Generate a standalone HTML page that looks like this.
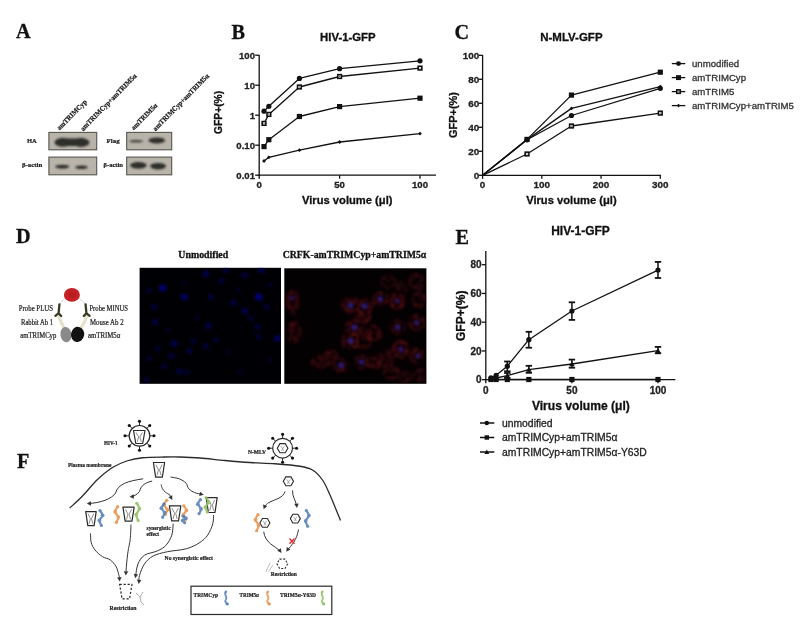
<!DOCTYPE html>
<html><head><meta charset="utf-8"><title>Figure</title>
<style>html,body{margin:0;padding:0;background:#fff;width:800px;height:634px;overflow:hidden;position:relative}</style>
</head><body>
<svg width="800" height="634" viewBox="0 0 800 634" style="position:absolute;left:0;top:0;filter:blur(0.3px)">
<text x="16" y="38.4" font-family='"Liberation Serif", serif' font-size="20.2" font-weight="bold" text-anchor="start" fill="#111" stroke="#111" stroke-width="0.3" >A</text>
<text x="231.6" y="38.7" font-family='"Liberation Serif", serif' font-size="20.2" font-weight="bold" text-anchor="start" fill="#111" stroke="#111" stroke-width="0.3" >B</text>
<text x="454.4" y="38.5" font-family='"Liberation Serif", serif' font-size="20.2" font-weight="bold" text-anchor="start" fill="#111" stroke="#111" stroke-width="0.3" >C</text>
<text x="16.1" y="243.3" font-family='"Liberation Serif", serif' font-size="20.2" font-weight="bold" text-anchor="start" fill="#111" stroke="#111" stroke-width="0.3" >D</text>
<text x="455.6" y="243.5" font-family='"Liberation Serif", serif' font-size="20.2" font-weight="bold" text-anchor="start" fill="#111" stroke="#111" stroke-width="0.3" >E</text>
<text x="17" y="467.6" font-family='"Liberation Serif", serif' font-size="20.2" font-weight="bold" text-anchor="start" fill="#111" stroke="#111" stroke-width="0.3" >F</text>
<defs><filter id="blur1" x="-20%" y="-50%" width="140%" height="200%"><feGaussianBlur stdDeviation="1.1"/></filter><filter id="blur05"><feGaussianBlur stdDeviation="0.5"/></filter><filter id="blur2" x="-50%" y="-50%" width="200%" height="200%"><feGaussianBlur stdDeviation="2"/></filter><filter id="blur3" x="-50%" y="-50%" width="200%" height="200%"><feGaussianBlur stdDeviation="3"/></filter></defs>
<rect x="48.9" y="132.4" width="47.800000000000004" height="17.400000000000006" fill="#b8b4aa" stroke="#55544f" stroke-width="1.1"/>
<rect x="48.9" y="157.1" width="47.800000000000004" height="17.700000000000017" fill="#b8b4aa" stroke="#55544f" stroke-width="1.1"/>
<rect x="126.7" y="132.4" width="44.999999999999986" height="17.400000000000006" fill="#b8b4aa" stroke="#55544f" stroke-width="1.1"/>
<rect x="126.7" y="157.1" width="44.999999999999986" height="17.700000000000017" fill="#b8b4aa" stroke="#55544f" stroke-width="1.1"/>
<g filter="url(#blur1)" fill="#2e2d2a"><ellipse cx="63" cy="142.3" rx="8.5" ry="4.4"/><ellipse cx="81" cy="142.5" rx="8.5" ry="4.4"/><rect x="60" y="138.5" width="24" height="7.5"/><ellipse cx="62.3" cy="166.6" rx="7" ry="1.9"/><ellipse cx="81.5" cy="167.2" rx="6.2" ry="1.7"/><ellipse cx="136.2" cy="141.2" rx="7" ry="1.4" fill="#4a4843"/><ellipse cx="156.8" cy="140.4" rx="8.2" ry="3"/><ellipse cx="138.4" cy="165.3" rx="8.2" ry="3.4"/><ellipse cx="158.1" cy="166.2" rx="7.8" ry="3.3"/></g>
<text x="27" y="143.4" font-family='"Liberation Serif", serif' font-size="6.6" font-weight="bold" text-anchor="start" fill="#222" stroke="#222" stroke-width="0.22" textLength="9.8" lengthAdjust="spacingAndGlyphs" >HA</text>
<text x="22" y="167.3" font-family='"Liberation Serif", serif' font-size="6.6" font-weight="bold" text-anchor="start" fill="#222" stroke="#222" stroke-width="0.22" textLength="20.3" lengthAdjust="spacingAndGlyphs" >β-actin</text>
<text x="106.6" y="143.4" font-family='"Liberation Serif", serif' font-size="6.6" font-weight="bold" text-anchor="start" fill="#222" stroke="#222" stroke-width="0.22" textLength="13" lengthAdjust="spacingAndGlyphs" >Flag</text>
<text x="103.5" y="167.3" font-family='"Liberation Serif", serif' font-size="6.6" font-weight="bold" text-anchor="start" fill="#222" stroke="#222" stroke-width="0.22" textLength="19.5" lengthAdjust="spacingAndGlyphs" >β-actin</text>
<text x="59.6" y="130.6" font-family='"Liberation Serif", serif' font-size="7.1" font-weight="bold" text-anchor="start" fill="#151515" stroke="#151515" stroke-width="0.22" textLength="39.5" lengthAdjust="spacingAndGlyphs" transform="rotate(-45.5 59.6 130.6)">amTRIMCyp</text>
<text x="83.2" y="131.4" font-family='"Liberation Serif", serif' font-size="7.1" font-weight="bold" text-anchor="start" fill="#151515" stroke="#151515" stroke-width="0.22" textLength="77" lengthAdjust="spacingAndGlyphs" transform="rotate(-45.5 83.2 131.4)">amTRIMCyp+amTRIM5α</text>
<text x="133.8" y="130.6" font-family='"Liberation Serif", serif' font-size="7.1" font-weight="bold" text-anchor="start" fill="#151515" stroke="#151515" stroke-width="0.22" textLength="34.5" lengthAdjust="spacingAndGlyphs" transform="rotate(-45.5 133.8 130.6)">amTRIM5α</text>
<text x="155.6" y="131.4" font-family='"Liberation Serif", serif' font-size="7.1" font-weight="bold" text-anchor="start" fill="#151515" stroke="#151515" stroke-width="0.22" textLength="77" lengthAdjust="spacingAndGlyphs" transform="rotate(-45.5 155.6 131.4)">amTRIMCyp+amTRIM5α</text>
<line x1="259.20" y1="55.00" x2="259.20" y2="175.80" stroke="#111" stroke-width="1.3" />
<line x1="258.60" y1="175.20" x2="436.00" y2="175.20" stroke="#111" stroke-width="1.3" />
<line x1="255.20" y1="55.20" x2="259.20" y2="55.20" stroke="#111" stroke-width="1.3" />
<text x="255.0" y="58.69999999999999" font-family='"Liberation Sans", sans-serif' font-size="9.6" font-weight="bold" text-anchor="end" fill="#222" stroke="#222" stroke-width="0.3" >100</text>
<line x1="255.20" y1="85.20" x2="259.20" y2="85.20" stroke="#111" stroke-width="1.3" />
<text x="255.0" y="88.69999999999999" font-family='"Liberation Sans", sans-serif' font-size="9.6" font-weight="bold" text-anchor="end" fill="#222" stroke="#222" stroke-width="0.3" >10</text>
<line x1="255.20" y1="115.20" x2="259.20" y2="115.20" stroke="#111" stroke-width="1.3" />
<text x="255.0" y="118.69999999999999" font-family='"Liberation Sans", sans-serif' font-size="9.6" font-weight="bold" text-anchor="end" fill="#222" stroke="#222" stroke-width="0.3" >1</text>
<line x1="255.20" y1="145.20" x2="259.20" y2="145.20" stroke="#111" stroke-width="1.3" />
<text x="255.0" y="148.7" font-family='"Liberation Sans", sans-serif' font-size="9.6" font-weight="bold" text-anchor="end" fill="#222" stroke="#222" stroke-width="0.3" >0.10</text>
<line x1="255.20" y1="175.20" x2="259.20" y2="175.20" stroke="#111" stroke-width="1.3" />
<text x="255.0" y="178.7" font-family='"Liberation Sans", sans-serif' font-size="9.6" font-weight="bold" text-anchor="end" fill="#222" stroke="#222" stroke-width="0.3" >0.01</text>
<line x1="259.20" y1="175.20" x2="259.20" y2="178.70" stroke="#111" stroke-width="1.3" />
<text x="259.2" y="188.2" font-family='"Liberation Sans", sans-serif' font-size="9.6" font-weight="bold" text-anchor="middle" fill="#222" stroke="#222" stroke-width="0.3" >0</text>
<line x1="339.60" y1="175.20" x2="339.60" y2="178.70" stroke="#111" stroke-width="1.3" />
<text x="339.6" y="188.2" font-family='"Liberation Sans", sans-serif' font-size="9.6" font-weight="bold" text-anchor="middle" fill="#222" stroke="#222" stroke-width="0.3" >50</text>
<line x1="420.00" y1="175.20" x2="420.00" y2="178.70" stroke="#111" stroke-width="1.3" />
<text x="420.0" y="188.2" font-family='"Liberation Sans", sans-serif' font-size="9.6" font-weight="bold" text-anchor="middle" fill="#222" stroke="#222" stroke-width="0.3" >100</text>
<text x="347.25" y="203.6" font-family='"Liberation Sans", sans-serif' font-size="11.2" font-weight="bold" text-anchor="middle" fill="#111" stroke="#111" stroke-width="0.3" textLength="90.5" lengthAdjust="spacingAndGlyphs" >Virus volume (μl)</text>
<text x="222.2" y="112.4" font-family='"Liberation Sans", sans-serif' font-size="10.8" font-weight="bold" text-anchor="middle" fill="#111" stroke="#111" stroke-width="0.3" textLength="43" lengthAdjust="spacingAndGlyphs" transform="rotate(-90 222.2 112.4)">GFP+(%)</text>
<text x="347.85" y="40.7" font-family='"Liberation Sans", sans-serif' font-size="11.35" font-weight="bold" text-anchor="middle" fill="#111" stroke="#111" stroke-width="0.3" textLength="55.5" lengthAdjust="spacingAndGlyphs" >HIV-1-GFP</text>
<polyline points="264.02,111.20 268.85,106.30 299.40,78.40 339.60,68.70 420.00,60.80" fill="none" stroke="#111" stroke-width="1.3" stroke-linejoin="round"/>
<circle cx="264.02" cy="111.20" r="2.60" fill="#111"/>
<circle cx="268.85" cy="106.30" r="2.60" fill="#111"/>
<circle cx="299.40" cy="78.40" r="2.60" fill="#111"/>
<circle cx="339.60" cy="68.70" r="2.60" fill="#111"/>
<circle cx="420.00" cy="60.80" r="2.60" fill="#111"/>
<polyline points="264.02,123.40 268.85,114.40 299.40,87.00 339.60,76.50 420.00,68.10" fill="none" stroke="#111" stroke-width="1.3" stroke-linejoin="round"/>
<rect x="262.17" y="121.55" width="3.70" height="3.70" fill="#fff" stroke="#111" stroke-width="1.6"/>
<circle cx="264.02" cy="123.40" r="0.7" fill="#777"/>
<rect x="267.00" y="112.55" width="3.70" height="3.70" fill="#fff" stroke="#111" stroke-width="1.6"/>
<circle cx="268.85" cy="114.40" r="0.7" fill="#777"/>
<rect x="297.55" y="85.15" width="3.70" height="3.70" fill="#fff" stroke="#111" stroke-width="1.6"/>
<circle cx="299.40" cy="87.00" r="0.7" fill="#777"/>
<rect x="337.75" y="74.65" width="3.70" height="3.70" fill="#fff" stroke="#111" stroke-width="1.6"/>
<circle cx="339.60" cy="76.50" r="0.7" fill="#777"/>
<rect x="418.15" y="66.25" width="3.70" height="3.70" fill="#fff" stroke="#111" stroke-width="1.6"/>
<circle cx="420.00" cy="68.10" r="0.7" fill="#777"/>
<polyline points="264.02,146.60 268.85,139.70 299.40,116.50 339.60,106.60 420.00,98.20" fill="none" stroke="#111" stroke-width="1.3" stroke-linejoin="round"/>
<rect x="261.42" y="144.00" width="5.20" height="5.20" fill="#111"/>
<rect x="266.25" y="137.10" width="5.20" height="5.20" fill="#111"/>
<rect x="296.80" y="113.90" width="5.20" height="5.20" fill="#111"/>
<rect x="337.00" y="104.00" width="5.20" height="5.20" fill="#111"/>
<rect x="417.40" y="95.60" width="5.20" height="5.20" fill="#111"/>
<polyline points="264.02,161.00 268.85,157.30 299.40,150.20 339.60,142.00 420.00,133.60" fill="none" stroke="#111" stroke-width="1.3" stroke-linejoin="round"/>
<polygon points="264.02,159.11 265.91,161.00 264.02,162.89 262.13,161.00" fill="#111"/>
<polygon points="268.85,155.41 270.74,157.30 268.85,159.19 266.96,157.30" fill="#111"/>
<polygon points="299.40,148.31 301.29,150.20 299.40,152.09 297.51,150.20" fill="#111"/>
<polygon points="339.60,140.11 341.49,142.00 339.60,143.89 337.71,142.00" fill="#111"/>
<polygon points="420.00,131.71 421.89,133.60 420.00,135.49 418.11,133.60" fill="#111"/>
<line x1="482.60" y1="55.00" x2="482.60" y2="175.90" stroke="#111" stroke-width="1.3" />
<line x1="482.00" y1="175.30" x2="661.00" y2="175.30" stroke="#111" stroke-width="1.3" />
<line x1="478.60" y1="175.30" x2="482.60" y2="175.30" stroke="#111" stroke-width="1.3" />
<text x="479.20000000000005" y="178.8" font-family='"Liberation Sans", sans-serif' font-size="9.9" font-weight="bold" text-anchor="end" fill="#222" stroke="#222" stroke-width="0.3" >0</text>
<line x1="478.60" y1="151.30" x2="482.60" y2="151.30" stroke="#111" stroke-width="1.3" />
<text x="479.20000000000005" y="154.8" font-family='"Liberation Sans", sans-serif' font-size="9.9" font-weight="bold" text-anchor="end" fill="#222" stroke="#222" stroke-width="0.3" >20</text>
<line x1="478.60" y1="127.30" x2="482.60" y2="127.30" stroke="#111" stroke-width="1.3" />
<text x="479.20000000000005" y="130.8" font-family='"Liberation Sans", sans-serif' font-size="9.9" font-weight="bold" text-anchor="end" fill="#222" stroke="#222" stroke-width="0.3" >40</text>
<line x1="478.60" y1="103.30" x2="482.60" y2="103.30" stroke="#111" stroke-width="1.3" />
<text x="479.20000000000005" y="106.80000000000001" font-family='"Liberation Sans", sans-serif' font-size="9.9" font-weight="bold" text-anchor="end" fill="#222" stroke="#222" stroke-width="0.3" >60</text>
<line x1="478.60" y1="79.30" x2="482.60" y2="79.30" stroke="#111" stroke-width="1.3" />
<text x="479.20000000000005" y="82.80000000000001" font-family='"Liberation Sans", sans-serif' font-size="9.9" font-weight="bold" text-anchor="end" fill="#222" stroke="#222" stroke-width="0.3" >80</text>
<line x1="478.60" y1="55.30" x2="482.60" y2="55.30" stroke="#111" stroke-width="1.3" />
<text x="479.20000000000005" y="58.80000000000001" font-family='"Liberation Sans", sans-serif' font-size="9.9" font-weight="bold" text-anchor="end" fill="#222" stroke="#222" stroke-width="0.3" >100</text>
<line x1="482.60" y1="175.30" x2="482.60" y2="178.80" stroke="#111" stroke-width="1.3" />
<text x="482.6" y="188.3" font-family='"Liberation Sans", sans-serif' font-size="9.9" font-weight="bold" text-anchor="middle" fill="#222" stroke="#222" stroke-width="0.3" >0</text>
<line x1="541.83" y1="175.30" x2="541.83" y2="178.80" stroke="#111" stroke-width="1.3" />
<text x="541.83" y="188.3" font-family='"Liberation Sans", sans-serif' font-size="9.9" font-weight="bold" text-anchor="middle" fill="#222" stroke="#222" stroke-width="0.3" >100</text>
<line x1="601.06" y1="175.30" x2="601.06" y2="178.80" stroke="#111" stroke-width="1.3" />
<text x="601.0600000000001" y="188.3" font-family='"Liberation Sans", sans-serif' font-size="9.9" font-weight="bold" text-anchor="middle" fill="#222" stroke="#222" stroke-width="0.3" >200</text>
<line x1="660.29" y1="175.30" x2="660.29" y2="178.80" stroke="#111" stroke-width="1.3" />
<text x="660.2900000000001" y="188.3" font-family='"Liberation Sans", sans-serif' font-size="9.9" font-weight="bold" text-anchor="middle" fill="#222" stroke="#222" stroke-width="0.3" >300</text>
<text x="571.4" y="203.6" font-family='"Liberation Sans", sans-serif' font-size="11.2" font-weight="bold" text-anchor="middle" fill="#111" stroke="#111" stroke-width="0.3" textLength="90.5" lengthAdjust="spacingAndGlyphs" >Virus volume (μl)</text>
<text x="457.2" y="115" font-family='"Liberation Sans", sans-serif' font-size="10.8" font-weight="bold" text-anchor="middle" fill="#111" stroke="#111" stroke-width="0.3" textLength="46" lengthAdjust="spacingAndGlyphs" transform="rotate(-90 457.2 115)">GFP+(%)</text>
<text x="571.4" y="40.7" font-family='"Liberation Sans", sans-serif' font-size="11.5" font-weight="bold" text-anchor="middle" fill="#111" stroke="#111" stroke-width="0.3" textLength="62.3" lengthAdjust="spacingAndGlyphs" >N-MLV-GFP</text>
<polyline points="482.60,175.30 527.02,139.80 571.45,115.50 660.29,88.30" fill="none" stroke="#111" stroke-width="1.3" stroke-linejoin="round"/>
<circle cx="527.02" cy="139.80" r="2.60" fill="#111"/>
<circle cx="571.45" cy="115.50" r="2.60" fill="#111"/>
<circle cx="660.29" cy="88.30" r="2.60" fill="#111"/>
<polyline points="482.60,175.30 527.02,139.40 571.45,95.10 660.29,72.20" fill="none" stroke="#111" stroke-width="1.3" stroke-linejoin="round"/>
<rect x="524.42" y="136.80" width="5.20" height="5.20" fill="#111"/>
<rect x="568.85" y="92.50" width="5.20" height="5.20" fill="#111"/>
<rect x="657.69" y="69.60" width="5.20" height="5.20" fill="#111"/>
<polyline points="482.60,175.30 527.02,154.00 571.45,126.00 660.29,113.10" fill="none" stroke="#111" stroke-width="1.3" stroke-linejoin="round"/>
<rect x="525.17" y="152.15" width="3.70" height="3.70" fill="#fff" stroke="#111" stroke-width="1.6"/>
<circle cx="527.02" cy="154.00" r="0.7" fill="#777"/>
<rect x="569.60" y="124.15" width="3.70" height="3.70" fill="#fff" stroke="#111" stroke-width="1.6"/>
<circle cx="571.45" cy="126.00" r="0.7" fill="#777"/>
<rect x="658.44" y="111.25" width="3.70" height="3.70" fill="#fff" stroke="#111" stroke-width="1.6"/>
<circle cx="660.29" cy="113.10" r="0.7" fill="#777"/>
<polyline points="482.60,175.30 527.02,139.60 571.45,108.40 660.29,86.60" fill="none" stroke="#111" stroke-width="1.3" stroke-linejoin="round"/>
<polygon points="527.02,137.71 528.91,139.60 527.02,141.49 525.13,139.60" fill="#111"/>
<polygon points="571.45,106.51 573.34,108.40 571.45,110.29 569.56,108.40" fill="#111"/>
<polygon points="660.29,84.71 662.18,86.60 660.29,88.49 658.40,86.60" fill="#111"/>
<line x1="671.80" y1="63.60" x2="685.30" y2="63.60" stroke="#111" stroke-width="1.3" />
<circle cx="678.50" cy="63.60" r="2.47" fill="#111"/>
<text x="692" y="67.1" font-family='"Liberation Sans", sans-serif' font-size="9.65" font-weight="normal" text-anchor="start" fill="#333" stroke="#333" stroke-width="0.3" >unmodified</text>
<line x1="671.80" y1="77.60" x2="685.30" y2="77.60" stroke="#111" stroke-width="1.3" />
<rect x="676.03" y="75.13" width="4.94" height="4.94" fill="#111"/>
<text x="692" y="81.1" font-family='"Liberation Sans", sans-serif' font-size="9.65" font-weight="normal" text-anchor="start" fill="#333" stroke="#333" stroke-width="0.3" >amTRIMCyp</text>
<line x1="671.80" y1="91.60" x2="685.30" y2="91.60" stroke="#111" stroke-width="1.3" />
<rect x="676.78" y="89.88" width="3.44" height="3.44" fill="#fff" stroke="#111" stroke-width="1.6"/>
<circle cx="678.50" cy="91.60" r="0.7" fill="#777"/>
<text x="692" y="95.1" font-family='"Liberation Sans", sans-serif' font-size="9.65" font-weight="normal" text-anchor="start" fill="#333" stroke="#333" stroke-width="0.3" >amTRIM5</text>
<line x1="671.80" y1="105.60" x2="685.30" y2="105.60" stroke="#111" stroke-width="1.3" />
<polygon points="678.50,103.81 680.28,105.60 678.50,107.38 676.72,105.60" fill="#111"/>
<text x="692" y="109.1" font-family='"Liberation Sans", sans-serif' font-size="9.65" font-weight="normal" text-anchor="start" fill="#333" stroke="#333" stroke-width="0.3" >amTRIMCyp+amTRIM5</text>
<g>
<path d="M64.5,299 Q60.5,301 59.8,305" fill="none" stroke="#cfcfcf" stroke-width="0.8"/>
<path d="M79.5,299 Q84.5,301 85.3,305" fill="none" stroke="#cfcfcf" stroke-width="0.8"/>
<ellipse cx="71.9" cy="294.9" rx="8" ry="6.8" fill="#c42026"/>
<ellipse cx="71.9" cy="294.9" rx="4" ry="3" fill="#b01c20" opacity="0.6"/>
<path d="M58.8,316 L61,322 L64.5,328.5" fill="none" stroke="#e4e2c8" stroke-width="3.2" stroke-linecap="round"/>
<path d="M86.8,316 L84.5,322 L80.5,328.5" fill="none" stroke="#e4e2c8" stroke-width="3.2" stroke-linecap="round"/>
<path d="M59.4,304.5 L58.6,313.2 M55.4,315.8 L58.6,313.2 L61.2,316" fill="none" stroke="#383826" stroke-width="2.3" stroke-linecap="round"/>
<path d="M85.6,304.5 L86.4,313.2 M89.6,315.8 L86.4,313.2 L83.8,316" fill="none" stroke="#383826" stroke-width="2.3" stroke-linecap="round"/>
<ellipse cx="66" cy="334.6" rx="5.6" ry="7.6" fill="#8a8a8a" transform="rotate(-8 66 334.6)"/>
<ellipse cx="77.6" cy="334.4" rx="6.6" ry="7.6" fill="#121212" transform="rotate(10 77.6 334.4)"/>
</g>
<text x="18.8" y="311.2" font-family='"Liberation Serif", serif' font-size="7.6" font-weight="normal" text-anchor="start" fill="#222" stroke="#222" stroke-width="0.22" textLength="34.2" lengthAdjust="spacingAndGlyphs" >Probe PLUS</text>
<text x="89.4" y="311.2" font-family='"Liberation Serif", serif' font-size="7.6" font-weight="normal" text-anchor="start" fill="#222" stroke="#222" stroke-width="0.22" textLength="38.6" lengthAdjust="spacingAndGlyphs" >Probe MINUS</text>
<text x="21" y="324.9" font-family='"Liberation Serif", serif' font-size="7.6" font-weight="normal" text-anchor="start" fill="#222" stroke="#222" stroke-width="0.22" textLength="32" lengthAdjust="spacingAndGlyphs" >Rabbit Ab 1</text>
<text x="90" y="324.9" font-family='"Liberation Serif", serif' font-size="7.6" font-weight="normal" text-anchor="start" fill="#222" stroke="#222" stroke-width="0.22" textLength="33.6" lengthAdjust="spacingAndGlyphs" >Mouse Ab 2</text>
<text x="20.3" y="338.2" font-family='"Liberation Serif", serif' font-size="7.6" font-weight="normal" text-anchor="start" fill="#222" stroke="#222" stroke-width="0.22" textLength="36" lengthAdjust="spacingAndGlyphs" >amTRIMCyp</text>
<text x="87.9" y="338.2" font-family='"Liberation Serif", serif' font-size="7.6" font-weight="normal" text-anchor="start" fill="#222" stroke="#222" stroke-width="0.22" textLength="32.4" lengthAdjust="spacingAndGlyphs" >amTRIM5α</text>
<text x="203.3" y="258.2" font-family='"Liberation Serif", serif' font-size="9.7" font-weight="bold" text-anchor="middle" fill="#111" stroke="#111" stroke-width="0.3" textLength="49.9" lengthAdjust="spacingAndGlyphs" >Unmodified</text>
<text x="354.5" y="257.6" font-family='"Liberation Serif", serif' font-size="9.75" font-weight="bold" text-anchor="middle" fill="#111" stroke="#111" stroke-width="0.3" textLength="143.5" lengthAdjust="spacingAndGlyphs" >CRFK-amTRIMCyp+amTRIM5α</text>
<defs><filter id="speck" x="-10%" y="-10%" width="120%" height="120%"><feGaussianBlur in="SourceGraphic" stdDeviation="1.6" result="b"/><feTurbulence type="fractalNoise" baseFrequency="0.22" numOctaves="2" seed="3" result="n"/><feColorMatrix in="n" type="matrix" values="0 0 0 0 0  0 0 0 0 0  0 0 0 0 0  0 0 0 1.8 -0.4" result="na"/><feComposite in="b" in2="na" operator="in" result="c"/><feGaussianBlur in="c" stdDeviation="1.0"/></filter><filter id="soft" x="-50%" y="-50%" width="200%" height="200%"><feGaussianBlur stdDeviation="1.7"/></filter></defs>
<rect x="139.6" y="267.8" width="141.4" height="116" fill="#000004"/>
<svg x="139.6" y="267.8" width="141.4" height="116" overflow="hidden"><g transform="translate(-139.6,-267.8)">
<g filter="url(#soft)"><circle cx="162.8" cy="288" r="3.6" fill="#05056f"/><circle cx="184.3" cy="296.8" r="3.4" fill="#040466"/><circle cx="258.7" cy="296.8" r="3.6" fill="#050578"/><circle cx="277.6" cy="338.4" r="3.2" fill="#040466"/><circle cx="205.7" cy="274" r="3.2" fill="#03034c"/><circle cx="225.9" cy="270.3" r="2.8" fill="#02023c"/><circle cx="244.8" cy="275.3" r="3" fill="#030340"/><circle cx="261.2" cy="270.3" r="3" fill="#030351"/><circle cx="148.9" cy="290.5" r="2.8" fill="#020231"/><circle cx="154" cy="306.9" r="3" fill="#02023c"/><circle cx="155.2" cy="322" r="3" fill="#030344"/><circle cx="210.8" cy="296.8" r="3" fill="#02023d"/><circle cx="220.9" cy="281.6" r="3" fill="#020238"/><circle cx="233.5" cy="303" r="3.2" fill="#02023a"/><circle cx="244.8" cy="310.7" r="3.2" fill="#03034c"/><circle cx="266.3" cy="306.9" r="3" fill="#020238"/><circle cx="208.2" cy="325.8" r="3.2" fill="#03033f"/><circle cx="174.2" cy="343.5" r="3.2" fill="#03034c"/><circle cx="193.1" cy="341" r="2.8" fill="#020238"/><circle cx="215.8" cy="339.7" r="2.8" fill="#020231"/><circle cx="205.7" cy="346" r="3" fill="#020239"/><circle cx="189.3" cy="351" r="3" fill="#03033f"/><circle cx="171.6" cy="356" r="3" fill="#02023c"/><circle cx="157.8" cy="348.5" r="2.8" fill="#020231"/><circle cx="148.9" cy="358.6" r="2.8" fill="#02022e"/><circle cx="164" cy="366.2" r="2.8" fill="#020238"/><circle cx="179.2" cy="371.2" r="3" fill="#03033f"/><circle cx="186.8" cy="372.5" r="2.8" fill="#020239"/><circle cx="146.4" cy="380" r="2.8" fill="#02023c"/><circle cx="257.4" cy="327" r="3" fill="#02023c"/><circle cx="258.7" cy="337" r="2.8" fill="#020238"/><circle cx="251.1" cy="318.2" r="2.8" fill="#020231"/><circle cx="238" cy="290" r="2.6" fill="#01012a"/><circle cx="270" cy="285" r="2.6" fill="#01012a"/><circle cx="197" cy="318" r="2.6" fill="#010125"/><circle cx="228" cy="352" r="2.6" fill="#010125"/><circle cx="168" cy="330" r="2.6" fill="#010125"/><circle cx="240" cy="372" r="2.6" fill="#010123"/><circle cx="270" cy="360" r="2.6" fill="#010123"/><circle cx="185" cy="283" r="2.4" fill="#010123"/></g>
</g></svg>
<rect x="284.3" y="268.3" width="142.1" height="115.5" fill="#040103"/>
<svg x="284.3" y="268.3" width="142.1" height="115.5" overflow="hidden"><g transform="translate(-284.3,-268.3)">
<g filter="url(#speck)" opacity="0.56"><ellipse cx="292.7" cy="302" rx="4.8" ry="10.4" fill="#a01a1e" fill-opacity="0.45" stroke="#a01a1e" stroke-width="3.6"/><ellipse cx="293.9" cy="332" rx="5.2" ry="9.5" fill="#a01a1e" fill-opacity="0.45" stroke="#a01a1e" stroke-width="3.6"/><ellipse cx="350.5" cy="305.2" rx="7.6" ry="6.6" fill="#b01e22" fill-opacity="0.45" stroke="#b01e22" stroke-width="3.6"/><ellipse cx="364.7" cy="307" rx="6.6" ry="6.6" fill="#a01a1e" fill-opacity="0.45" stroke="#a01a1e" stroke-width="3.6"/><ellipse cx="363.9" cy="316.7" rx="5.7" ry="5.7" fill="#b01e22" fill-opacity="0.45" stroke="#b01e22" stroke-width="3.6"/><ellipse cx="380.4" cy="298.9" rx="6.6" ry="5.7" fill="#901a1e" fill-opacity="0.45" stroke="#901a1e" stroke-width="3.6"/><ellipse cx="397" cy="301.3" rx="6.6" ry="6.6" fill="#b01e22" fill-opacity="0.45" stroke="#b01e22" stroke-width="3.6"/><ellipse cx="354.4" cy="327.3" rx="7.6" ry="6.6" fill="#b01e22" fill-opacity="0.45" stroke="#b01e22" stroke-width="3.6"/><ellipse cx="374.1" cy="333.6" rx="6.6" ry="6.6" fill="#a01a1e" fill-opacity="0.45" stroke="#a01a1e" stroke-width="3.6"/><ellipse cx="350.5" cy="340.7" rx="7.6" ry="6.6" fill="#b01e22" fill-opacity="0.45" stroke="#b01e22" stroke-width="3.6"/><ellipse cx="363" cy="341.5" rx="7.6" ry="5.7" fill="#a01a1e" fill-opacity="0.45" stroke="#a01a1e" stroke-width="3.6"/><ellipse cx="397.8" cy="327.3" rx="5.7" ry="5.7" fill="#801a1c" fill-opacity="0.45" stroke="#801a1c" stroke-width="3.6"/><ellipse cx="416.7" cy="322.6" rx="6.6" ry="6.6" fill="#901a1e" fill-opacity="0.45" stroke="#901a1e" stroke-width="3.6"/><ellipse cx="401" cy="349.4" rx="6.6" ry="7.6" fill="#b81c2a" fill-opacity="0.45" stroke="#b81c2a" stroke-width="3.6"/><ellipse cx="416.7" cy="355.7" rx="5.7" ry="6.6" fill="#901a1e" fill-opacity="0.45" stroke="#901a1e" stroke-width="3.6"/><ellipse cx="320.5" cy="362" rx="7.6" ry="4.8" fill="#a01a1e" fill-opacity="0.45" stroke="#a01a1e" stroke-width="3.6"/><ellipse cx="331.5" cy="357.3" rx="6.6" ry="5.7" fill="#a01a1e" fill-opacity="0.45" stroke="#a01a1e" stroke-width="3.6"/><ellipse cx="341" cy="365.2" rx="5.7" ry="5.7" fill="#801a1c" fill-opacity="0.45" stroke="#801a1c" stroke-width="3.6"/><ellipse cx="361.5" cy="362" rx="5.7" ry="5.7" fill="#801a1c" fill-opacity="0.45" stroke="#801a1c" stroke-width="3.6"/><ellipse cx="374.1" cy="362" rx="5.7" ry="5.7" fill="#a01a1e" fill-opacity="0.45" stroke="#a01a1e" stroke-width="3.6"/><ellipse cx="386.8" cy="358.9" rx="5.7" ry="7.6" fill="#a01a1e" fill-opacity="0.45" stroke="#a01a1e" stroke-width="3.6"/><ellipse cx="391.5" cy="373" rx="6.6" ry="5.7" fill="#801a1c" fill-opacity="0.45" stroke="#801a1c" stroke-width="3.6"/><ellipse cx="416.7" cy="281.6" rx="7.6" ry="6.6" fill="#6a1418" fill-opacity="0.45" stroke="#6a1418" stroke-width="3.6"/><ellipse cx="388.3" cy="281.6" rx="6.6" ry="5.7" fill="#5a1216" fill-opacity="0.45" stroke="#5a1216" stroke-width="3.6"/><ellipse cx="418.8" cy="300" rx="5.7" ry="6.6" fill="#801a1c" fill-opacity="0.45" stroke="#801a1c" stroke-width="3.6"/><ellipse cx="405" cy="377" rx="5.7" ry="4.8" fill="#6a1418" fill-opacity="0.45" stroke="#6a1418" stroke-width="3.6"/><ellipse cx="420" cy="375" rx="4.8" ry="5.7" fill="#6a1418" fill-opacity="0.45" stroke="#6a1418" stroke-width="3.6"/><ellipse cx="402" cy="288" rx="4.8" ry="4.8" fill="#5a1216" fill-opacity="0.45" stroke="#5a1216" stroke-width="3.6"/></g>
<g filter="url(#soft)" opacity="0.7"><circle cx="350.5" cy="305.2" r="2.8" fill="#3a28b8"/><circle cx="364.7" cy="306" r="2.8" fill="#3a28b8"/><circle cx="380.4" cy="298.9" r="2.6" fill="#3a28b8"/><circle cx="354.4" cy="327.3" r="2.8" fill="#3a28b8"/><circle cx="350.5" cy="340.7" r="2.8" fill="#3a28b8"/><circle cx="397.8" cy="327.3" r="2.6" fill="#3a28b8"/><circle cx="401" cy="349.4" r="2.4" fill="#3a28b8"/><circle cx="341" cy="365.2" r="2.8" fill="#3a28b8"/><circle cx="361.5" cy="362" r="2.6" fill="#3a28b8"/><circle cx="416.7" cy="322.6" r="2.4" fill="#3a28b8"/><circle cx="292" cy="298" r="2" fill="#3a28b8"/><circle cx="418" cy="356" r="2.2" fill="#3a28b8"/><circle cx="397" cy="301" r="2" fill="#3a28b8"/></g>
</g></svg>
<line x1="485.80" y1="250.90" x2="485.80" y2="380.30" stroke="#111" stroke-width="1.3" />
<line x1="485.20" y1="379.70" x2="675.40" y2="379.70" stroke="#111" stroke-width="1.3" />
<line x1="481.80" y1="379.70" x2="485.80" y2="379.70" stroke="#111" stroke-width="1.3" />
<text x="481.5" y="383.3" font-family='"Liberation Sans", sans-serif' font-size="10" font-weight="bold" text-anchor="end" fill="#222" stroke="#222" stroke-width="0.3" >0</text>
<line x1="481.80" y1="350.95" x2="485.80" y2="350.95" stroke="#111" stroke-width="1.3" />
<text x="481.5" y="354.55" font-family='"Liberation Sans", sans-serif' font-size="10" font-weight="bold" text-anchor="end" fill="#222" stroke="#222" stroke-width="0.3" >20</text>
<line x1="481.80" y1="322.20" x2="485.80" y2="322.20" stroke="#111" stroke-width="1.3" />
<text x="481.5" y="325.8" font-family='"Liberation Sans", sans-serif' font-size="10" font-weight="bold" text-anchor="end" fill="#222" stroke="#222" stroke-width="0.3" >40</text>
<line x1="481.80" y1="293.45" x2="485.80" y2="293.45" stroke="#111" stroke-width="1.3" />
<text x="481.5" y="297.05" font-family='"Liberation Sans", sans-serif' font-size="10" font-weight="bold" text-anchor="end" fill="#222" stroke="#222" stroke-width="0.3" >60</text>
<line x1="481.80" y1="264.70" x2="485.80" y2="264.70" stroke="#111" stroke-width="1.3" />
<text x="481.5" y="268.3" font-family='"Liberation Sans", sans-serif' font-size="10" font-weight="bold" text-anchor="end" fill="#222" stroke="#222" stroke-width="0.3" >80</text>
<line x1="485.80" y1="379.70" x2="485.80" y2="383.20" stroke="#111" stroke-width="1.3" />
<text x="485.8" y="393.59999999999997" font-family='"Liberation Sans", sans-serif' font-size="10" font-weight="bold" text-anchor="middle" fill="#222" stroke="#222" stroke-width="0.3" >0</text>
<line x1="571.90" y1="379.70" x2="571.90" y2="383.20" stroke="#111" stroke-width="1.3" />
<text x="571.9" y="393.59999999999997" font-family='"Liberation Sans", sans-serif' font-size="10" font-weight="bold" text-anchor="middle" fill="#222" stroke="#222" stroke-width="0.3" >50</text>
<line x1="658.00" y1="379.70" x2="658.00" y2="383.20" stroke="#111" stroke-width="1.3" />
<text x="658.0" y="393.59999999999997" font-family='"Liberation Sans", sans-serif' font-size="10" font-weight="bold" text-anchor="middle" fill="#222" stroke="#222" stroke-width="0.3" >100</text>
<text x="580.9" y="409.7" font-family='"Liberation Sans", sans-serif' font-size="12.1" font-weight="bold" text-anchor="middle" fill="#111" stroke="#111" stroke-width="0.3" textLength="98" lengthAdjust="spacingAndGlyphs" >Virus volume (μl)</text>
<text x="464.6" y="315.8" font-family='"Liberation Sans", sans-serif' font-size="12" font-weight="bold" text-anchor="middle" fill="#111" stroke="#111" stroke-width="0.3" textLength="50.5" lengthAdjust="spacingAndGlyphs" transform="rotate(-90 464.6 315.8)">GFP+(%)</text>
<text x="580.5" y="234.8" font-family='"Liberation Sans", sans-serif' font-size="11.9" font-weight="bold" text-anchor="middle" fill="#111" stroke="#111" stroke-width="0.3" textLength="58.6" lengthAdjust="spacingAndGlyphs" >HIV-1-GFP</text>
<polyline points="490.97,379.50 496.13,379.50 507.32,379.50 528.85,379.50 571.90,379.50 658.00,379.50" fill="none" stroke="#111" stroke-width="1.3" stroke-linejoin="round"/>
<rect x="488.37" y="376.90" width="5.20" height="5.20" fill="#111"/>
<rect x="493.53" y="376.90" width="5.20" height="5.20" fill="#111"/>
<rect x="504.72" y="376.90" width="5.20" height="5.20" fill="#111"/>
<rect x="526.25" y="376.90" width="5.20" height="5.20" fill="#111"/>
<rect x="569.30" y="376.90" width="5.20" height="5.20" fill="#111"/>
<rect x="655.40" y="376.90" width="5.20" height="5.20" fill="#111"/>
<polyline points="490.97,378.80 496.13,378.00 507.32,375.60 528.85,369.60 571.90,364.00 658.00,350.70" fill="none" stroke="#111" stroke-width="1.3" stroke-linejoin="round"/>
<polygon points="490.97,376.00 493.77,381.04 488.17,381.04" fill="#111"/>
<polygon points="496.13,375.20 498.93,380.24 493.33,380.24" fill="#111"/>
<line x1="507.32" y1="373.00" x2="507.32" y2="378.00" stroke="#111" stroke-width="1.5" />
<line x1="504.12" y1="373.00" x2="510.52" y2="373.00" stroke="#111" stroke-width="1.8" />
<line x1="504.12" y1="378.00" x2="510.52" y2="378.00" stroke="#111" stroke-width="1.8" />
<polygon points="507.32,372.80 510.12,377.84 504.52,377.84" fill="#111"/>
<line x1="528.85" y1="365.80" x2="528.85" y2="372.80" stroke="#111" stroke-width="1.5" />
<line x1="525.65" y1="365.80" x2="532.05" y2="365.80" stroke="#111" stroke-width="1.8" />
<line x1="525.65" y1="372.80" x2="532.05" y2="372.80" stroke="#111" stroke-width="1.8" />
<polygon points="528.85,366.80 531.65,371.84 526.05,371.84" fill="#111"/>
<line x1="571.90" y1="359.60" x2="571.90" y2="367.70" stroke="#111" stroke-width="1.5" />
<line x1="568.70" y1="359.60" x2="575.10" y2="359.60" stroke="#111" stroke-width="1.8" />
<line x1="568.70" y1="367.70" x2="575.10" y2="367.70" stroke="#111" stroke-width="1.8" />
<polygon points="571.90,361.20 574.70,366.24 569.10,366.24" fill="#111"/>
<line x1="658.00" y1="346.90" x2="658.00" y2="353.30" stroke="#111" stroke-width="1.5" />
<line x1="654.80" y1="346.90" x2="661.20" y2="346.90" stroke="#111" stroke-width="1.8" />
<line x1="654.80" y1="353.30" x2="661.20" y2="353.30" stroke="#111" stroke-width="1.8" />
<polygon points="658.00,347.90 660.80,352.94 655.20,352.94" fill="#111"/>
<polyline points="490.97,377.80 496.13,375.30 507.32,366.20 528.85,339.70 571.90,311.00 658.00,270.10" fill="none" stroke="#111" stroke-width="1.3" stroke-linejoin="round"/>
<circle cx="490.97" cy="377.80" r="2.60" fill="#111"/>
<circle cx="496.13" cy="375.30" r="2.60" fill="#111"/>
<line x1="507.32" y1="361.50" x2="507.32" y2="371.30" stroke="#111" stroke-width="1.5" />
<line x1="504.12" y1="361.50" x2="510.52" y2="361.50" stroke="#111" stroke-width="1.8" />
<line x1="504.12" y1="371.30" x2="510.52" y2="371.30" stroke="#111" stroke-width="1.8" />
<circle cx="507.32" cy="366.20" r="2.60" fill="#111"/>
<line x1="528.85" y1="331.80" x2="528.85" y2="347.70" stroke="#111" stroke-width="1.5" />
<line x1="525.65" y1="331.80" x2="532.05" y2="331.80" stroke="#111" stroke-width="1.8" />
<line x1="525.65" y1="347.70" x2="532.05" y2="347.70" stroke="#111" stroke-width="1.8" />
<circle cx="528.85" cy="339.70" r="2.60" fill="#111"/>
<line x1="571.90" y1="302.30" x2="571.90" y2="319.90" stroke="#111" stroke-width="1.5" />
<line x1="568.70" y1="302.30" x2="575.10" y2="302.30" stroke="#111" stroke-width="1.8" />
<line x1="568.70" y1="319.90" x2="575.10" y2="319.90" stroke="#111" stroke-width="1.8" />
<circle cx="571.90" cy="311.00" r="2.60" fill="#111"/>
<line x1="658.00" y1="261.90" x2="658.00" y2="278.00" stroke="#111" stroke-width="1.5" />
<line x1="654.80" y1="261.90" x2="661.20" y2="261.90" stroke="#111" stroke-width="1.8" />
<line x1="654.80" y1="278.00" x2="661.20" y2="278.00" stroke="#111" stroke-width="1.8" />
<circle cx="658.00" cy="270.10" r="2.60" fill="#111"/>
<line x1="480.00" y1="423.00" x2="494.30" y2="423.00" stroke="#111" stroke-width="1.5" />
<circle cx="486.80" cy="423.00" r="2.21" fill="#111"/>
<text x="502" y="426.7" font-family='"Liberation Sans", sans-serif' font-size="10.35" font-weight="normal" text-anchor="start" fill="#222" stroke="#222" stroke-width="0.3" >unmodified</text>
<line x1="480.00" y1="437.50" x2="494.30" y2="437.50" stroke="#111" stroke-width="1.5" />
<rect x="484.59" y="435.29" width="4.42" height="4.42" fill="#111"/>
<text x="502" y="441.2" font-family='"Liberation Sans", sans-serif' font-size="10.35" font-weight="normal" text-anchor="start" fill="#222" stroke="#222" stroke-width="0.3" >amTRIMCyp+amTRIM5α</text>
<line x1="480.00" y1="452.00" x2="494.30" y2="452.00" stroke="#111" stroke-width="1.5" />
<polygon points="486.80,449.62 489.18,453.90 484.42,453.90" fill="#111"/>
<text x="502" y="455.7" font-family='"Liberation Sans", sans-serif' font-size="10.35" font-weight="normal" text-anchor="start" fill="#222" stroke="#222" stroke-width="0.3" >amTRIMCyp+amTRIM5α-Y63D</text>
<path d="M69.75,508.00 C71.88,506.00 77.88,500.75 82.50,496.00 C87.12,491.25 92.50,484.25 97.50,479.50 C102.50,474.75 107.50,470.62 112.50,467.50 C117.50,464.38 122.50,462.38 127.50,460.75 C132.50,459.12 136.25,458.38 142.50,457.75 C148.75,457.12 158.75,457.12 165.00,457.00 C171.25,456.88 174.17,456.83 180.00,457.00 C185.83,457.17 192.50,457.42 200.00,458.00 C207.50,458.58 216.67,459.75 225.00,460.50 C233.33,461.25 241.67,461.96 250.00,462.50 C258.33,463.04 266.67,463.12 275.00,463.75 C283.33,464.38 293.75,465.21 300.00,466.25 C306.25,467.29 308.75,467.71 312.50,470.00 C316.25,472.29 319.58,475.83 322.50,480.00 C325.42,484.17 327.00,488.25 330.00,495.00 C333.00,501.75 338.75,516.25 340.50,520.50" fill="none" stroke="#2a2a2a" stroke-width="1.3"/>
<text x="68" y="467.2" font-family='"Liberation Serif", serif' font-size="6.2" font-weight="bold" text-anchor="start" fill="#1e1e1e" stroke="#1e1e1e" stroke-width="0.22" textLength="43.5" lengthAdjust="spacingAndGlyphs" >Plasma membrane</text>
<g><circle cx="139.5" cy="435.8" r="10.3" fill="#fff" stroke="#2a2a2a" stroke-width="1.2"/><line x1="149.80" y1="435.80" x2="154.00" y2="435.80" stroke="#2a2a2a" stroke-width="1"/><circle cx="154.00" cy="435.80" r="1.55" fill="#111"/><line x1="146.78" y1="443.08" x2="149.75" y2="446.05" stroke="#2a2a2a" stroke-width="1"/><circle cx="149.75" cy="446.05" r="1.55" fill="#111"/><line x1="139.50" y1="446.10" x2="139.50" y2="450.30" stroke="#2a2a2a" stroke-width="1"/><circle cx="139.50" cy="450.30" r="1.55" fill="#111"/><line x1="132.22" y1="443.08" x2="129.25" y2="446.05" stroke="#2a2a2a" stroke-width="1"/><circle cx="129.25" cy="446.05" r="1.55" fill="#111"/><line x1="129.20" y1="435.80" x2="125.00" y2="435.80" stroke="#2a2a2a" stroke-width="1"/><circle cx="125.00" cy="435.80" r="1.55" fill="#111"/><line x1="132.22" y1="428.52" x2="129.25" y2="425.55" stroke="#2a2a2a" stroke-width="1"/><circle cx="129.25" cy="425.55" r="1.55" fill="#111"/><line x1="139.50" y1="425.50" x2="139.50" y2="421.30" stroke="#2a2a2a" stroke-width="1"/><circle cx="139.50" cy="421.30" r="1.55" fill="#111"/><line x1="146.78" y1="428.52" x2="149.75" y2="425.55" stroke="#2a2a2a" stroke-width="1"/><circle cx="149.75" cy="425.55" r="1.55" fill="#111"/></g>
<path d="M133.5,430.5 L145.0,430.5 L142.7,443.5 L135.8,443.5 Z" fill="#fff" stroke="#2a2a2a" stroke-width="1.2" stroke-linejoin="round" />
<path d="M136.03,432.45 L138.675,437.0 L137.18,441.94 M142.47,432.45 L139.825,437.0 L141.32,441.94" fill="none" stroke="#666" stroke-width="0.75"/>
<text x="104" y="444.5" font-family='"Liberation Serif", serif' font-size="5.8" font-weight="bold" text-anchor="start" fill="#1e1e1e" stroke="#1e1e1e" stroke-width="0.22" textLength="13.6" lengthAdjust="spacingAndGlyphs" >HIV-1</text>
<path d="M153.4,462.5 L164.6,462.5 L162.35999999999999,477.1 L155.64000000000001,477.1 Z" fill="#fff" stroke="#2a2a2a" stroke-width="1.2" stroke-linejoin="round" />
<path d="M155.864,464.69 L158.44,469.8 L156.984,475.348 M162.136,464.69 L159.56,469.8 L161.01600000000002,475.348" fill="none" stroke="#666" stroke-width="0.75"/>
<path d="M143.2,478.8 C128,481 118,484 115.5,493 C112,499 100,503 88.5,503.5" fill="none" stroke="#333" stroke-width="1.0"/>
<polygon points="86.80,503.60 90.92,501.25 91.07,505.65" fill="#333"/>
<path d="M152.2,481 C146,482.5 141,485 139.5,491.5 C137,495 133,496.5 131.3,496.7" fill="none" stroke="#333" stroke-width="1.0"/>
<polygon points="129.60,496.80 133.59,494.24 133.98,498.63" fill="#333"/>
<path d="M161.10,484.50 C161.33,485.21 161.80,487.50 162.50,488.75 C163.20,490.00 164.05,490.91 165.30,492.00 C166.55,493.09 169.03,494.33 170.00,495.30 C170.97,496.27 170.94,497.38 171.13,497.79" fill="none" stroke="#333" stroke-width="1.0"/>
<polygon points="172.30,500.00 168.39,497.32 172.27,495.26" fill="#333"/>
<path d="M170.50,477.00 C171.98,477.32 176.82,477.88 179.40,478.90 C181.98,479.92 184.44,481.46 186.00,483.10 C187.56,484.74 187.35,487.18 188.75,488.75 C190.15,490.32 192.31,491.58 194.40,492.50 C196.49,493.42 200.15,493.98 201.30,494.28" fill="none" stroke="#333" stroke-width="1.0"/>
<polygon points="203.75,494.80 199.18,496.08 200.10,491.77" fill="#333"/>
<path d="M85.7,511.6 L96.2,511.6 L94.10000000000001,525.6 L87.8,525.6 Z" fill="#fff" stroke="#2a2a2a" stroke-width="1.2" stroke-linejoin="round" />
<path d="M88.01,513.7 L90.425,518.6 L89.06,523.9200000000001 M93.89,513.7 L91.47500000000001,518.6 L92.84,523.9200000000001" fill="none" stroke="#666" stroke-width="0.75"/>
<g opacity="0.88"><path d="M100.00,510.60 C100.43,511.40 102.70,513.73 102.60,515.36 C102.50,517.00 99.60,518.74 99.40,520.43 C99.20,522.12 101.07,524.65 101.40,525.49" fill="none" stroke="#5580b8" stroke-width="2.2" stroke-linecap="round"/>
<circle cx="100.00" cy="510.60" r="1.6" fill="#5580b8"/>
<circle cx="102.60" cy="515.36" r="1.9" fill="#5580b8"/>
<circle cx="99.40" cy="520.43" r="1.9" fill="#5580b8"/>
<circle cx="101.40" cy="525.49" r="1.6" fill="#5580b8"/>
</g>
<path d="M122.9,507.2 L134.20000000000002,507.2 L131.94000000000003,521.2 L125.16000000000001,521.2 Z" fill="#fff" stroke="#2a2a2a" stroke-width="1.2" stroke-linejoin="round" />
<path d="M125.38600000000001,509.3 L127.98500000000001,514.2 L126.516,519.52 M131.714,509.3 L129.115,514.2 L130.584,519.52" fill="none" stroke="#666" stroke-width="0.75"/>
<g opacity="0.88"><path d="M117.70,506.72 C117.27,507.56 115.00,510.02 115.10,511.75 C115.20,513.49 118.10,515.32 118.30,517.11 C118.50,518.89 116.63,521.57 116.30,522.46" fill="none" stroke="#e8924a" stroke-width="2.2" stroke-linecap="round"/>
<circle cx="117.70" cy="506.72" r="1.6" fill="#e8924a"/>
<circle cx="115.10" cy="511.75" r="1.9" fill="#e8924a"/>
<circle cx="118.30" cy="517.11" r="1.9" fill="#e8924a"/>
<circle cx="116.30" cy="522.46" r="1.6" fill="#e8924a"/>
</g>
<g opacity="0.88"><path d="M136.80,503.35 C137.23,504.26 139.50,506.93 139.40,508.81 C139.30,510.68 136.40,512.68 136.20,514.61 C136.00,516.55 137.87,519.45 138.20,520.42" fill="none" stroke="#90c060" stroke-width="2.2" stroke-linecap="round"/>
<circle cx="136.80" cy="503.35" r="1.6" fill="#90c060"/>
<circle cx="139.40" cy="508.81" r="1.9" fill="#90c060"/>
<circle cx="136.20" cy="514.61" r="1.9" fill="#90c060"/>
<circle cx="138.20" cy="520.42" r="1.6" fill="#90c060"/>
</g>
<g opacity="0.88"><path d="M166.70,500.29 C166.27,501.05 164.00,503.27 164.10,504.84 C164.20,506.40 167.10,508.06 167.30,509.68 C167.50,511.29 165.63,513.71 165.30,514.52" fill="none" stroke="#e8924a" stroke-width="2.2" stroke-linecap="round"/>
<circle cx="166.70" cy="500.29" r="1.6" fill="#e8924a"/>
<circle cx="164.10" cy="504.84" r="1.9" fill="#e8924a"/>
<circle cx="167.30" cy="509.68" r="1.9" fill="#e8924a"/>
<circle cx="165.30" cy="514.52" r="1.6" fill="#e8924a"/>
</g>
<g opacity="0.88"><path d="M164.00,503.97 C163.57,504.68 161.30,506.76 161.40,508.22 C161.50,509.68 164.40,511.23 164.60,512.73 C164.80,514.24 162.93,516.50 162.60,517.25" fill="none" stroke="#5580b8" stroke-width="2.2" stroke-linecap="round"/>
<circle cx="164.00" cy="503.97" r="1.6" fill="#5580b8"/>
<circle cx="161.40" cy="508.22" r="1.9" fill="#5580b8"/>
<circle cx="164.60" cy="512.73" r="1.9" fill="#5580b8"/>
<circle cx="162.60" cy="517.25" r="1.6" fill="#5580b8"/>
</g>
<path d="M169.4,505.9 L180.8,505.9 L178.52,520.8 L171.68,520.8 Z" fill="#fff" stroke="#2a2a2a" stroke-width="1.2" stroke-linejoin="round" />
<path d="M171.90800000000002,508.135 L174.53,513.35 L173.048,519.012 M178.292,508.135 L175.67,513.35 L177.15200000000002,519.012" fill="none" stroke="#666" stroke-width="0.75"/>
<g opacity="0.88"><path d="M183.80,505.79 C184.23,506.55 186.50,508.77 186.40,510.34 C186.30,511.90 183.40,513.56 183.20,515.18 C183.00,516.79 184.87,519.21 185.20,520.02" fill="none" stroke="#e8924a" stroke-width="2.2" stroke-linecap="round"/>
<circle cx="183.80" cy="505.79" r="1.6" fill="#e8924a"/>
<circle cx="186.40" cy="510.34" r="1.9" fill="#e8924a"/>
<circle cx="183.20" cy="515.18" r="1.9" fill="#e8924a"/>
<circle cx="185.20" cy="520.02" r="1.6" fill="#e8924a"/>
</g>
<g opacity="0.88"><path d="M183.30,516.14 C183.73,516.49 186.00,517.53 185.90,518.26 C185.80,518.99 182.90,519.76 182.70,520.52 C182.50,521.27 184.37,522.40 184.70,522.77" fill="none" stroke="#5580b8" stroke-width="2.2" stroke-linecap="round"/>
<circle cx="183.30" cy="516.14" r="1.6" fill="#5580b8"/>
<circle cx="185.90" cy="518.26" r="1.9" fill="#5580b8"/>
<circle cx="182.70" cy="520.52" r="1.9" fill="#5580b8"/>
<circle cx="184.70" cy="522.77" r="1.6" fill="#5580b8"/>
</g>
<path d="M206.2,497.6 L217.2,497.6 L215.0,512.5 L208.39999999999998,512.5 Z" fill="#fff" stroke="#2a2a2a" stroke-width="1.2" stroke-linejoin="round" />
<path d="M208.61999999999998,499.83500000000004 L211.14999999999998,505.05 L209.72,510.71200000000005 M214.78,499.83500000000004 L212.25,505.05 L213.67999999999998,510.71200000000005" fill="none" stroke="#666" stroke-width="0.75"/>
<g opacity="0.88"><path d="M200.40,499.69 C199.97,500.43 197.70,502.63 197.80,504.17 C197.90,505.72 200.80,507.36 201.00,508.95 C201.20,510.54 199.33,512.93 199.00,513.72" fill="none" stroke="#5580b8" stroke-width="2.2" stroke-linecap="round"/>
<circle cx="200.40" cy="499.69" r="1.6" fill="#5580b8"/>
<circle cx="197.80" cy="504.17" r="1.9" fill="#5580b8"/>
<circle cx="201.00" cy="508.95" r="1.9" fill="#5580b8"/>
<circle cx="199.00" cy="513.72" r="1.6" fill="#5580b8"/>
</g>
<g opacity="0.88"><path d="M206.00,497.79 C206.43,498.55 208.70,500.77 208.60,502.34 C208.50,503.90 205.60,505.56 205.40,507.18 C205.20,508.79 207.07,511.21 207.40,512.02" fill="none" stroke="#90c060" stroke-width="2.2" stroke-linecap="round"/>
<circle cx="206.00" cy="497.79" r="1.6" fill="#90c060"/>
<circle cx="208.60" cy="502.34" r="1.9" fill="#90c060"/>
<circle cx="205.40" cy="507.18" r="1.9" fill="#90c060"/>
<circle cx="207.40" cy="512.02" r="1.6" fill="#90c060"/>
</g>
<text x="146.6" y="529.5" font-family='"Liberation Serif", serif' font-size="5.8" font-weight="bold" text-anchor="start" fill="#1e1e1e" stroke="#1e1e1e" stroke-width="0.22" textLength="24" lengthAdjust="spacingAndGlyphs" >synergistic</text>
<text x="146.6" y="536.2" font-family='"Liberation Serif", serif' font-size="5.8" font-weight="bold" text-anchor="start" fill="#1e1e1e" stroke="#1e1e1e" stroke-width="0.22" textLength="12.5" lengthAdjust="spacingAndGlyphs" >effect</text>
<text x="164.6" y="559.6" font-family='"Liberation Serif", serif' font-size="5.8" font-weight="bold" text-anchor="start" fill="#1e1e1e" stroke="#1e1e1e" stroke-width="0.22" textLength="48.4" lengthAdjust="spacingAndGlyphs" >No synergistic effect</text>
<path d="M90.50,533.50 C90.62,535.00 90.45,539.75 91.20,542.50 C91.95,545.25 93.12,547.63 95.00,550.00 C96.88,552.37 100.00,555.08 102.50,556.70 C105.00,558.32 107.75,558.07 110.00,559.70 C112.25,561.33 114.50,563.87 116.00,566.50 C117.50,569.13 118.42,573.42 119.00,575.50 C119.58,577.58 119.40,578.42 119.48,579.01" fill="none" stroke="#333" stroke-width="1.0"/>
<polygon points="119.70,581.50 117.14,577.51 121.53,577.12" fill="#333"/>
<path d="M131.00,524.50 C130.87,527.00 130.70,535.00 130.20,539.50 C129.70,544.00 128.62,547.25 128.00,551.50 C127.38,555.75 126.84,561.42 126.50,565.00 C126.16,568.58 126.03,571.67 125.93,573.00" fill="none" stroke="#333" stroke-width="1.0"/>
<polygon points="125.80,575.50 123.82,571.19 128.22,571.42" fill="#333"/>
<path d="M173.20,523.60 C172.97,525.52 172.98,531.50 171.80,535.10 C170.62,538.70 168.50,542.57 166.10,545.20 C163.70,547.83 161.00,549.23 157.40,550.90 C153.80,552.57 147.73,553.03 144.50,555.20 C141.27,557.37 139.48,560.48 138.00,563.90 C136.52,567.32 136.03,573.76 135.63,575.74" fill="none" stroke="#333" stroke-width="1.0"/>
<polygon points="135.20,578.20 133.76,573.68 138.10,574.45" fill="#333"/>
<path d="M213.50,515.00 C213.38,516.43 213.77,520.25 212.80,523.60 C211.83,526.95 209.98,531.87 207.70,535.10 C205.42,538.33 202.68,540.72 199.10,543.00 C195.52,545.28 191.47,547.35 186.20,548.80 C180.93,550.25 173.02,550.50 167.50,551.70 C161.98,552.90 156.93,553.97 153.10,556.00 C149.27,558.03 146.77,560.67 144.50,563.90 C142.23,567.13 140.42,572.47 139.50,575.40 C138.58,578.33 139.06,580.49 138.97,581.51" fill="none" stroke="#333" stroke-width="1.0"/>
<polygon points="138.75,584.00 136.92,579.62 141.31,580.01" fill="#333"/>
<path d="M119.6,584.3 L132.0,584.3 L129.52,598.9 L122.08,598.9 Z" fill="#fff" stroke="#2a2a2a" stroke-width="1.2" stroke-linejoin="round" stroke-dasharray="2.2,1.8"/>
<path d="M136,593 L140,597 L143,592 M140,597 L141,602 L144,605" fill="none" stroke="#999" stroke-width="0.8"/>
<text x="109.5" y="610" font-family='"Liberation Serif", serif' font-size="5.9" font-weight="bold" text-anchor="start" fill="#1e1e1e" stroke="#1e1e1e" stroke-width="0.22" textLength="27" lengthAdjust="spacingAndGlyphs" >Restriction</text>
<g><circle cx="282.6" cy="448.2" r="9.9" fill="#fff" stroke="#2a2a2a" stroke-width="1.2"/><line x1="292.50" y1="448.20" x2="296.60" y2="448.20" stroke="#2a2a2a" stroke-width="1"/><circle cx="296.60" cy="448.20" r="1.55" fill="#111"/><line x1="289.60" y1="455.20" x2="292.50" y2="458.10" stroke="#2a2a2a" stroke-width="1"/><circle cx="292.50" cy="458.10" r="1.55" fill="#111"/><line x1="282.60" y1="458.10" x2="282.60" y2="462.20" stroke="#2a2a2a" stroke-width="1"/><circle cx="282.60" cy="462.20" r="1.55" fill="#111"/><line x1="275.60" y1="455.20" x2="272.70" y2="458.10" stroke="#2a2a2a" stroke-width="1"/><circle cx="272.70" cy="458.10" r="1.55" fill="#111"/><line x1="272.70" y1="448.20" x2="268.60" y2="448.20" stroke="#2a2a2a" stroke-width="1"/><circle cx="268.60" cy="448.20" r="1.55" fill="#111"/><line x1="275.60" y1="441.20" x2="272.70" y2="438.30" stroke="#2a2a2a" stroke-width="1"/><circle cx="272.70" cy="438.30" r="1.55" fill="#111"/><line x1="282.60" y1="438.30" x2="282.60" y2="434.20" stroke="#2a2a2a" stroke-width="1"/><circle cx="282.60" cy="434.20" r="1.55" fill="#111"/><line x1="289.60" y1="441.20" x2="292.50" y2="438.30" stroke="#2a2a2a" stroke-width="1"/><circle cx="292.50" cy="438.30" r="1.55" fill="#111"/></g>
<polygon points="287.90,448.20 285.25,452.79 279.95,452.79 277.30,448.20 279.95,443.61 285.25,443.61" fill="#fff" stroke="#2a2a2a" stroke-width="1.1" />
<path d="M280.745,446.08 L282.6,448.72999999999996 L284.45500000000004,446.08 M282.6,448.72999999999996 L281.54,450.84999999999997 M282.6,448.72999999999996 L283.66,450.84999999999997" fill="none" stroke="#777" stroke-width="0.6"/>
<text x="247.9" y="454" font-family='"Liberation Serif", serif' font-size="5.8" font-weight="bold" text-anchor="start" fill="#1e1e1e" stroke="#1e1e1e" stroke-width="0.22" textLength="18.2" lengthAdjust="spacingAndGlyphs" >N-MLV</text>
<polygon points="293.50,481.30 290.95,485.72 285.85,485.72 283.30,481.30 285.85,476.88 290.95,476.88" fill="#fff" stroke="#2a2a2a" stroke-width="1.1" />
<path d="M286.61499999999995,479.26 L288.4,481.81 L290.185,479.26 M288.4,481.81 L287.38,483.85 M288.4,481.81 L289.41999999999996,483.85" fill="none" stroke="#777" stroke-width="0.6"/>
<path d="M285,491.5 C283,498 276,499 270,502 C266,504 265,506 264.5,507.5" fill="none" stroke="#333" stroke-width="1.0"/>
<polygon points="263.70,509.20 263.07,504.50 267.20,506.01" fill="#333"/>
<path d="M292.6,490.3 C292,497 296,500 296.5,506" fill="none" stroke="#333" stroke-width="1.0"/>
<polygon points="296.90,508.00 294.34,504.01 298.73,503.62" fill="#333"/>
<polygon points="269.90,522.90 267.40,527.23 262.40,527.23 259.90,522.90 262.40,518.57 267.40,518.57" fill="#fff" stroke="#2a2a2a" stroke-width="1.1" />
<path d="M263.15,520.9 L264.9,523.4 L266.65,520.9 M264.9,523.4 L263.9,525.4 M264.9,523.4 L265.9,525.4" fill="none" stroke="#777" stroke-width="0.6"/>
<g opacity="0.88"><path d="M258.00,514.63 C257.57,515.49 255.30,518.01 255.40,519.78 C255.50,521.56 258.40,523.44 258.60,525.27 C258.80,527.10 256.93,529.84 256.60,530.75" fill="none" stroke="#e8924a" stroke-width="2.2" stroke-linecap="round"/>
<circle cx="258.00" cy="514.63" r="1.6" fill="#e8924a"/>
<circle cx="255.40" cy="519.78" r="1.9" fill="#e8924a"/>
<circle cx="258.60" cy="525.27" r="1.9" fill="#e8924a"/>
<circle cx="256.60" cy="530.75" r="1.6" fill="#e8924a"/>
</g>
<polygon points="300.30,518.60 297.80,522.93 292.80,522.93 290.30,518.60 292.80,514.27 297.80,514.27" fill="#fff" stroke="#2a2a2a" stroke-width="1.1" />
<path d="M293.55,516.6 L295.3,519.1 L297.05,516.6 M295.3,519.1 L294.3,521.1 M295.3,519.1 L296.3,521.1" fill="none" stroke="#777" stroke-width="0.6"/>
<g opacity="0.88"><path d="M306.30,510.52 C306.73,511.36 309.00,513.82 308.90,515.55 C308.80,517.29 305.90,519.12 305.70,520.91 C305.50,522.69 307.37,525.37 307.70,526.26" fill="none" stroke="#5580b8" stroke-width="2.2" stroke-linecap="round"/>
<circle cx="306.30" cy="510.52" r="1.6" fill="#5580b8"/>
<circle cx="308.90" cy="515.55" r="1.9" fill="#5580b8"/>
<circle cx="305.70" cy="520.91" r="1.9" fill="#5580b8"/>
<circle cx="307.70" cy="526.26" r="1.6" fill="#5580b8"/>
</g>
<path d="M263.7,531.7 C265,543 275,546 280,551" fill="none" stroke="#333" stroke-width="1.0"/>
<polygon points="281.50,553.00 277.29,550.82 280.89,548.30" fill="#333"/>
<path d="M298.5,529.5 C297,540 291,546 287.5,550" fill="none" stroke="#333" stroke-width="1.0"/>
<polygon points="286.20,551.80 286.81,547.10 290.41,549.62" fill="#333"/>
<path d="M289.5,538.5 L294.5,543.7 M294.5,538.5 L289.5,543.7" stroke="#e03030" stroke-width="1.4"/>
<polygon points="287.70,563.80 285.00,568.48 279.60,568.48 276.90,563.80 279.60,559.12 285.00,559.12" fill="#fff" stroke="#2a2a2a" stroke-width="1.1" stroke-dasharray="2,1.6"/>
<path d="M265.8,572 L270,563 M268.5,571.5 L272.8,565" fill="none" stroke="#aaa" stroke-width="0.8"/>
<text x="270.8" y="576.3" font-family='"Liberation Serif", serif' font-size="5.9" font-weight="bold" text-anchor="start" fill="#1e1e1e" stroke="#1e1e1e" stroke-width="0.22" textLength="26.1" lengthAdjust="spacingAndGlyphs" >Restriction</text>
<rect x="191" y="586.2" width="140.8" height="28.3" fill="#fff" stroke="#2a2a2a" stroke-width="1.2"/>
<text x="193.6" y="597.3" font-family='"Liberation Serif", serif' font-size="5.9" font-weight="bold" text-anchor="start" fill="#1e1e1e" stroke="#1e1e1e" stroke-width="0.22" textLength="24.4" lengthAdjust="spacingAndGlyphs" >TRIMCyp</text>
<path d="M226.0,591.5 C223.0,594.5 228.0,596.5 226.0,599.5 C224.0,602.0 226.5,602.5 227.7,604.0" fill="none" stroke="#5580b8" stroke-width="1.9" stroke-linecap="round" opacity="0.85"/>
<ellipse cx="227.1" cy="604.1" rx="1.8" ry="1.4" fill="#5580b8" opacity="0.85"/>
<circle cx="225.8" cy="592.0" r="1.1" fill="#5580b8" opacity="0.85"/>
<text x="239.6" y="597.3" font-family='"Liberation Serif", serif' font-size="5.9" font-weight="bold" text-anchor="start" fill="#1e1e1e" stroke="#1e1e1e" stroke-width="0.22" textLength="19.4" lengthAdjust="spacingAndGlyphs" >TRIM5α</text>
<path d="M268.0,591.5 C265.0,594.5 270.0,596.5 268.0,599.5 C266.0,602.0 268.5,602.5 269.7,604.0" fill="none" stroke="#e8924a" stroke-width="1.9" stroke-linecap="round" opacity="0.85"/>
<ellipse cx="269.1" cy="604.1" rx="1.8" ry="1.4" fill="#e8924a" opacity="0.85"/>
<circle cx="267.8" cy="592.0" r="1.1" fill="#e8924a" opacity="0.85"/>
<text x="280" y="597.3" font-family='"Liberation Serif", serif' font-size="5.9" font-weight="bold" text-anchor="start" fill="#1e1e1e" stroke="#1e1e1e" stroke-width="0.22" textLength="36" lengthAdjust="spacingAndGlyphs" >TRIM5α-Y63D</text>
<path d="M322.5,591.5 C319.5,594.5 324.5,596.5 322.5,599.5 C320.5,602.0 323,602.5 324.2,604.0" fill="none" stroke="#90c060" stroke-width="1.9" stroke-linecap="round" opacity="0.85"/>
<ellipse cx="323.6" cy="604.1" rx="1.8" ry="1.4" fill="#90c060" opacity="0.85"/>
<circle cx="322.3" cy="592.0" r="1.1" fill="#90c060" opacity="0.85"/>
</svg>
</body></html>
